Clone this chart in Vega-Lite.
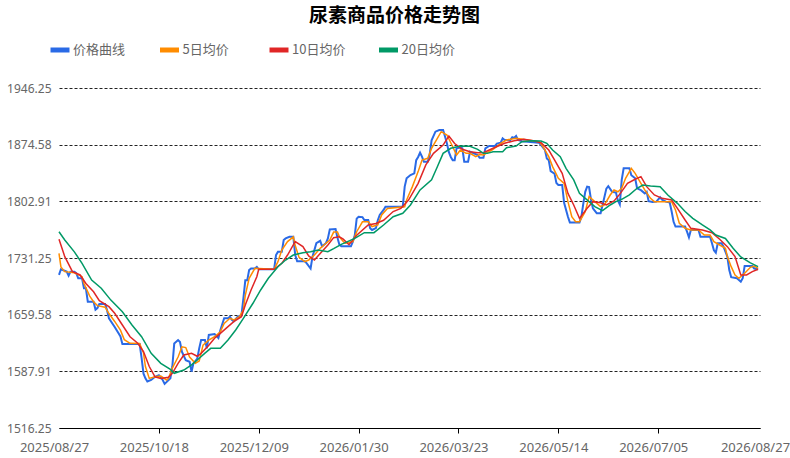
{
"$schema": "https://vega.github.io/schema/vega-lite/v6.json",
"width": 701, "height": 340,
"autosize": {"type": "none"},
"padding": {"left": 59, "top": 88, "right": 30, "bottom": 30},
"background": "white",
"title": {"text": "尿素商品价格走势图", "font": "Noto Sans CJK SC", "fontSize": 19, "fontWeight": "bold", "color": "#000000", "anchor": "middle", "frame": "group", "dx": -15, "offset": 12},
"config": {"view": {"stroke": null}, "font": "Noto Sans CJK SC"},
"data": {"values": [
{"series":"价格曲线","date":"2025/08/27","price":1710},{"series":"价格曲线","date":"2025/08/28","price":1717},{"series":"价格曲线","date":"2025/08/31","price":1714},{"series":"价格曲线","date":"2025/09/01","price":1709},{"series":"价格曲线","date":"2025/09/02","price":1714},{"series":"价格曲线","date":"2025/09/04","price":1714},{"series":"价格曲线","date":"2025/09/05","price":1712},{"series":"价格曲线","date":"2025/09/06","price":1705.5},{"series":"价格曲线","date":"2025/09/08","price":1705.5},{"series":"价格曲线","date":"2025/09/09","price":1693},{"series":"价格曲线","date":"2025/09/10","price":1693},{"series":"价格曲线","date":"2025/09/11","price":1676},{"series":"价格曲线","date":"2025/09/14","price":1676},{"series":"价格曲线","date":"2025/09/15","price":1666},{"series":"价格曲线","date":"2025/09/16","price":1668},{"series":"价格曲线","date":"2025/09/17","price":1673},{"series":"价格曲线","date":"2025/09/20","price":1673},{"series":"价格曲线","date":"2025/09/21","price":1665.5},{"series":"价格曲线","date":"2025/09/22","price":1655},{"series":"价格曲线","date":"2025/09/25","price":1644},{"series":"价格曲线","date":"2025/09/27","price":1636},{"series":"价格曲线","date":"2025/09/28","price":1632},{"series":"价格曲线","date":"2025/09/29","price":1622.5},{"series":"价格曲线","date":"2025/10/08","price":1622.5},{"series":"价格曲线","date":"2025/10/09","price":1605},{"series":"价格曲线","date":"2025/10/10","price":1585},{"series":"价格曲线","date":"2025/10/11","price":1579},{"series":"价格曲线","date":"2025/10/12","price":1575},{"series":"价格曲线","date":"2025/10/14","price":1577},{"series":"价格曲线","date":"2025/10/16","price":1581},{"series":"价格曲线","date":"2025/10/18","price":1583},{"series":"价格曲线","date":"2025/10/20","price":1577},{"series":"价格曲线","date":"2025/10/21","price":1572},{"series":"价格曲线","date":"2025/10/24","price":1579},{"series":"价格曲线","date":"2025/10/25","price":1594},{"series":"价格曲线","date":"2025/10/26","price":1623},{"series":"价格曲线","date":"2025/10/28","price":1627.5},{"series":"价格曲线","date":"2025/10/29","price":1625},{"series":"价格曲线","date":"2025/10/30","price":1612.7},{"series":"价格曲线","date":"2025/11/01","price":1602},{"series":"价格曲线","date":"2025/11/03","price":1600},{"series":"价格曲线","date":"2025/11/04","price":1587.5},{"series":"价格曲线","date":"2025/11/05","price":1598},{"series":"价格曲线","date":"2025/11/07","price":1604},{"series":"价格曲线","date":"2025/11/08","price":1617},{"series":"价格曲线","date":"2025/11/09","price":1627.5},{"series":"价格曲线","date":"2025/11/11","price":1627.5},{"series":"价格曲线","date":"2025/11/12","price":1617},{"series":"价格曲线","date":"2025/11/13","price":1634},{"series":"价格曲线","date":"2025/11/16","price":1635},{"series":"价格曲线","date":"2025/11/18","price":1630},{"series":"价格曲线","date":"2025/11/19","price":1640},{"series":"价格曲线","date":"2025/11/21","price":1655},{"series":"价格曲线","date":"2025/11/23","price":1655},{"series":"价格曲线","date":"2025/11/24","price":1657},{"series":"价格曲线","date":"2025/11/25","price":1653},{"series":"价格曲线","date":"2025/11/26","price":1651},{"series":"价格曲线","date":"2025/11/28","price":1657},{"series":"价格曲线","date":"2025/11/30","price":1659},{"series":"价格曲线","date":"2025/12/01","price":1680},{"series":"价格曲线","date":"2025/12/02","price":1703},{"series":"价格曲线","date":"2025/12/03","price":1703},{"series":"价格曲线","date":"2025/12/04","price":1716},{"series":"价格曲线","date":"2025/12/05","price":1718},{"series":"价格曲线","date":"2025/12/07","price":1718},{"series":"价格曲线","date":"2025/12/08","price":1720},{"series":"价格曲线","date":"2025/12/09","price":1717},{"series":"价格曲线","date":"2025/12/17","price":1717},{"series":"价格曲线","date":"2025/12/18","price":1735},{"series":"价格曲线","date":"2025/12/19","price":1739},{"series":"价格曲线","date":"2025/12/21","price":1739},{"series":"价格曲线","date":"2025/12/22","price":1754},{"series":"价格曲线","date":"2025/12/23","price":1756},{"series":"价格曲线","date":"2025/12/25","price":1758},{"series":"价格曲线","date":"2025/12/27","price":1758},{"series":"价格曲线","date":"2025/12/28","price":1735},{"series":"价格曲线","date":"2025/12/29","price":1727},{"series":"价格曲线","date":"2026/01/02","price":1727},{"series":"价格曲线","date":"2026/01/03","price":1724.5},{"series":"价格曲线","date":"2026/01/05","price":1718},{"series":"价格曲线","date":"2026/01/06","price":1733},{"series":"价格曲线","date":"2026/01/08","price":1750},{"series":"价格曲线","date":"2026/01/10","price":1753},{"series":"价格曲线","date":"2026/01/11","price":1746},{"series":"价格曲线","date":"2026/01/12","price":1748},{"series":"价格曲线","date":"2026/01/13","price":1750},{"series":"价格曲线","date":"2026/01/14","price":1756},{"series":"价格曲线","date":"2026/01/15","price":1767.5},{"series":"价格曲线","date":"2026/01/18","price":1768},{"series":"价格曲线","date":"2026/01/19","price":1757},{"series":"价格曲线","date":"2026/01/20","price":1748},{"series":"价格曲线","date":"2026/01/21","price":1746},{"series":"价格曲线","date":"2026/01/26","price":1746},{"series":"价格曲线","date":"2026/01/27","price":1752},{"series":"价格曲线","date":"2026/01/28","price":1760},{"series":"价格曲线","date":"2026/01/29","price":1781},{"series":"价格曲线","date":"2026/01/30","price":1783.5},{"series":"价格曲线","date":"2026/02/01","price":1783},{"series":"价格曲线","date":"2026/02/02","price":1779.3},{"series":"价格曲线","date":"2026/02/04","price":1779.3},{"series":"价格曲线","date":"2026/02/05","price":1768.8},{"series":"价格曲线","date":"2026/02/06","price":1766.7},{"series":"价格曲线","date":"2026/02/08","price":1769},{"series":"价格曲线","date":"2026/02/09","price":1779},{"series":"价格曲线","date":"2026/02/10","price":1785.7},{"series":"价格曲线","date":"2026/02/12","price":1792},{"series":"价格曲线","date":"2026/02/13","price":1796.2},{"series":"价格曲线","date":"2026/02/22","price":1796.2},{"series":"价格曲线","date":"2026/02/23","price":1821.5},{"series":"价格曲线","date":"2026/02/24","price":1832},{"series":"价格曲线","date":"2026/02/26","price":1836.2},{"series":"价格曲线","date":"2026/02/28","price":1838.3},{"series":"价格曲线","date":"2026/03/01","price":1855},{"series":"价格曲线","date":"2026/03/02","price":1859},{"series":"价格曲线","date":"2026/03/03","price":1864.4},{"series":"价格曲线","date":"2026/03/04","price":1859.4},{"series":"价格曲线","date":"2026/03/05","price":1853},{"series":"价格曲线","date":"2026/03/07","price":1853},{"series":"价格曲线","date":"2026/03/08","price":1862},{"series":"价格曲线","date":"2026/03/09","price":1880},{"series":"价格曲线","date":"2026/03/11","price":1891},{"series":"价格曲线","date":"2026/03/13","price":1893},{"series":"价格曲线","date":"2026/03/15","price":1893},{"series":"价格曲线","date":"2026/03/16","price":1885},{"series":"价格曲线","date":"2026/03/17","price":1876},{"series":"价格曲线","date":"2026/03/18","price":1865},{"series":"价格曲线","date":"2026/03/19","price":1859},{"series":"价格曲线","date":"2026/03/20","price":1855},{"series":"价格曲线","date":"2026/03/21","price":1855},{"series":"价格曲线","date":"2026/03/22","price":1870},{"series":"价格曲线","date":"2026/03/24","price":1871},{"series":"价格曲线","date":"2026/03/25","price":1870},{"series":"价格曲线","date":"2026/03/26","price":1853},{"series":"价格曲线","date":"2026/03/28","price":1853},{"series":"价格曲线","date":"2026/03/29","price":1865.7},{"series":"价格曲线","date":"2026/03/31","price":1863.6},{"series":"价格曲线","date":"2026/04/02","price":1861.5},{"series":"价格曲线","date":"2026/04/03","price":1858},{"series":"价格曲线","date":"2026/04/05","price":1858},{"series":"价格曲线","date":"2026/04/06","price":1870},{"series":"价格曲线","date":"2026/04/08","price":1873},{"series":"价格曲线","date":"2026/04/11","price":1873},{"series":"价格曲线","date":"2026/04/12","price":1876},{"series":"价格曲线","date":"2026/04/14","price":1877},{"series":"价格曲线","date":"2026/04/15","price":1882.6},{"series":"价格曲线","date":"2026/04/16","price":1880.5},{"series":"价格曲线","date":"2026/04/19","price":1880.5},{"series":"价格曲线","date":"2026/04/20","price":1884},{"series":"价格曲线","date":"2026/04/21","price":1883},{"series":"价格曲线","date":"2026/04/22","price":1885.5},{"series":"价格曲线","date":"2026/04/23","price":1880.5},{"series":"价格曲线","date":"2026/04/25","price":1879},{"series":"价格曲线","date":"2026/04/28","price":1878.4},{"series":"价格曲线","date":"2026/05/04","price":1877},{"series":"价格曲线","date":"2026/05/05","price":1874},{"series":"价格曲线","date":"2026/05/07","price":1868},{"series":"价格曲线","date":"2026/05/08","price":1857},{"series":"价格曲线","date":"2026/05/09","price":1855},{"series":"价格曲线","date":"2026/05/10","price":1841},{"series":"价格曲线","date":"2026/05/12","price":1838},{"series":"价格曲线","date":"2026/05/13","price":1826},{"series":"价格曲线","date":"2026/05/14","price":1823.6},{"series":"价格曲线","date":"2026/05/16","price":1823.6},{"series":"价格曲线","date":"2026/05/17","price":1801},{"series":"价格曲线","date":"2026/05/19","price":1783.5},{"series":"价格曲线","date":"2026/05/20","price":1776},{"series":"价格曲线","date":"2026/05/25","price":1776},{"series":"价格曲线","date":"2026/05/26","price":1783.5},{"series":"价格曲线","date":"2026/05/27","price":1800},{"series":"价格曲线","date":"2026/05/28","price":1815},{"series":"价格曲线","date":"2026/05/29","price":1821.5},{"series":"价格曲线","date":"2026/05/30","price":1821},{"series":"价格曲线","date":"2026/05/31","price":1805},{"series":"价格曲线","date":"2026/06/01","price":1794},{"series":"价格曲线","date":"2026/06/03","price":1788},{"series":"价格曲线","date":"2026/06/05","price":1788},{"series":"价格曲线","date":"2026/06/06","price":1798},{"series":"价格曲线","date":"2026/06/08","price":1819},{"series":"价格曲线","date":"2026/06/09","price":1822},{"series":"价格曲线","date":"2026/06/11","price":1815},{"series":"价格曲线","date":"2026/06/13","price":1814},{"series":"价格曲线","date":"2026/06/14","price":1804},{"series":"价格曲线","date":"2026/06/15","price":1799},{"series":"价格曲线","date":"2026/06/16","price":1830},{"series":"价格曲线","date":"2026/06/17","price":1844.6},{"series":"价格曲线","date":"2026/06/20","price":1844.6},{"series":"价格曲线","date":"2026/06/21","price":1836},{"series":"价格曲线","date":"2026/06/23","price":1832},{"series":"价格曲线","date":"2026/06/24","price":1819.4},{"series":"价格曲线","date":"2026/06/26","price":1817},{"series":"价格曲线","date":"2026/06/28","price":1813},{"series":"价格曲线","date":"2026/06/29","price":1815},{"series":"价格曲线","date":"2026/06/30","price":1803},{"series":"价格曲线","date":"2026/07/02","price":1802},{"series":"价格曲线","date":"2026/07/04","price":1802.5},{"series":"价格曲线","date":"2026/07/06","price":1808},{"series":"价格曲线","date":"2026/07/07","price":1805},{"series":"价格曲线","date":"2026/07/09","price":1802.5},{"series":"价格曲线","date":"2026/07/11","price":1801.4},{"series":"价格曲线","date":"2026/07/12","price":1790},{"series":"价格曲线","date":"2026/07/13","price":1777},{"series":"价格曲线","date":"2026/07/14","price":1771},{"series":"价格曲线","date":"2026/07/19","price":1771},{"series":"价格曲线","date":"2026/07/20","price":1764.5},{"series":"价格曲线","date":"2026/07/21","price":1757.4},{"series":"价格曲线","date":"2026/07/22","price":1766.7},{"series":"价格曲线","date":"2026/07/26","price":1766.7},{"series":"价格曲线","date":"2026/07/27","price":1758.2},{"series":"价格曲线","date":"2026/08/01","price":1758.2},{"series":"价格曲线","date":"2026/08/02","price":1750},{"series":"价格曲线","date":"2026/08/03","price":1741},{"series":"价格曲线","date":"2026/08/04","price":1738},{"series":"价格曲线","date":"2026/08/05","price":1749.8},{"series":"价格曲线","date":"2026/08/07","price":1750},{"series":"价格曲线","date":"2026/08/08","price":1745.6},{"series":"价格曲线","date":"2026/08/10","price":1733},{"series":"价格曲线","date":"2026/08/11","price":1716},{"series":"价格曲线","date":"2026/08/12","price":1707},{"series":"价格曲线","date":"2026/08/15","price":1705.6},{"series":"价格曲线","date":"2026/08/17","price":1701.3},{"series":"价格曲线","date":"2026/08/18","price":1705.6},{"series":"价格曲线","date":"2026/08/19","price":1721},{"series":"价格曲线","date":"2026/08/23","price":1721},{"series":"价格曲线","date":"2026/08/24","price":1718},{"series":"价格曲线","date":"2026/08/26","price":1717},
{"series":"5日均价","date":"2025/08/27","price":1737},{"series":"5日均价","date":"2025/08/28","price":1720},{"series":"5日均价","date":"2025/08/30","price":1714},{"series":"5日均价","date":"2025/09/04","price":1712.6},{"series":"5日均价","date":"2025/09/08","price":1707.6},{"series":"5日均价","date":"2025/09/09","price":1699},{"series":"5日均价","date":"2025/09/12","price":1683},{"series":"5日均价","date":"2025/09/14","price":1676},{"series":"5日均价","date":"2025/09/16","price":1671},{"series":"5日均价","date":"2025/09/20","price":1669},{"series":"5日均价","date":"2025/09/22","price":1661},{"series":"5日均价","date":"2025/09/25","price":1651},{"series":"5日均价","date":"2025/09/28","price":1640},{"series":"5日均价","date":"2025/09/30","price":1628},{"series":"5日均价","date":"2025/10/03","price":1623.4},{"series":"5日均价","date":"2025/10/08","price":1623},{"series":"5日均价","date":"2025/10/10","price":1611},{"series":"5日均价","date":"2025/10/11","price":1594},{"series":"5日均价","date":"2025/10/13","price":1579},{"series":"5日均价","date":"2025/10/16","price":1581},{"series":"5日均价","date":"2025/10/19","price":1582},{"series":"5日均价","date":"2025/10/22","price":1577},{"series":"5日均价","date":"2025/10/23","price":1579},{"series":"5日均价","date":"2025/10/25","price":1592},{"series":"5日均价","date":"2025/10/28","price":1606},{"series":"5日均价","date":"2025/10/30","price":1619},{"series":"5日均价","date":"2025/11/01","price":1618},{"series":"5日均价","date":"2025/11/03","price":1606},{"series":"5日均价","date":"2025/11/06","price":1598},{"series":"5日均价","date":"2025/11/08","price":1601},{"series":"5日均价","date":"2025/11/10","price":1621},{"series":"5日均价","date":"2025/11/13","price":1627.5},{"series":"5日均价","date":"2025/11/16","price":1631.7},{"series":"5日均价","date":"2025/11/19","price":1638},{"series":"5日均价","date":"2025/11/21","price":1648.6},{"series":"5日均价","date":"2025/11/24","price":1655},{"series":"5日均价","date":"2025/11/26","price":1652.8},{"series":"5日均价","date":"2025/11/29","price":1657},{"series":"5日均价","date":"2025/12/01","price":1665.5},{"series":"5日均价","date":"2025/12/02","price":1684},{"series":"5日均价","date":"2025/12/04","price":1705.6},{"series":"5日均价","date":"2025/12/07","price":1718.2},{"series":"5日均价","date":"2025/12/09","price":1718},{"series":"5日均价","date":"2025/12/17","price":1717},{"series":"5日均价","date":"2025/12/19","price":1726.6},{"series":"5日均价","date":"2025/12/21","price":1741.4},{"series":"5日均价","date":"2025/12/24","price":1752},{"series":"5日均价","date":"2025/12/27","price":1758},{"series":"5日均价","date":"2025/12/28","price":1747},{"series":"5日均价","date":"2025/12/30","price":1732},{"series":"5日均价","date":"2026/01/02","price":1726.6},{"series":"5日均价","date":"2026/01/04","price":1728.7},{"series":"5日均价","date":"2026/01/07","price":1735},{"series":"5日均价","date":"2026/01/10","price":1743.5},{"series":"5日均价","date":"2026/01/12","price":1747.7},{"series":"5日均价","date":"2026/01/15","price":1754},{"series":"5日均价","date":"2026/01/17","price":1764},{"series":"5日均价","date":"2026/01/19","price":1764},{"series":"5日均价","date":"2026/01/20","price":1758},{"series":"5日均价","date":"2026/01/22","price":1752},{"series":"5日均价","date":"2026/01/23","price":1750},{"series":"5日均价","date":"2026/01/27","price":1752},{"series":"5日均价","date":"2026/01/29","price":1764.5},{"series":"5日均价","date":"2026/02/01","price":1777},{"series":"5日均价","date":"2026/02/04","price":1777},{"series":"5日均价","date":"2026/02/06","price":1771},{"series":"5日均价","date":"2026/02/09","price":1773},{"series":"5日均价","date":"2026/02/11","price":1785.7},{"series":"5日均价","date":"2026/02/14","price":1794},{"series":"5日均价","date":"2026/02/23","price":1796},{"series":"5日均价","date":"2026/02/24","price":1804.6},{"series":"5日均价","date":"2026/02/27","price":1821.5},{"series":"5日均价","date":"2026/03/02","price":1840.5},{"series":"5日均价","date":"2026/03/04","price":1855},{"series":"5日均价","date":"2026/03/07","price":1857.3},{"series":"5日均价","date":"2026/03/09","price":1870},{"series":"5日均价","date":"2026/03/12","price":1882.6},{"series":"5日均价","date":"2026/03/14","price":1891},{"series":"5日均价","date":"2026/03/17","price":1886.8},{"series":"5日均价","date":"2026/03/20","price":1872},{"series":"5日均价","date":"2026/03/22","price":1861.5},{"series":"5日均价","date":"2026/03/24","price":1867.8},{"series":"5日均价","date":"2026/03/27","price":1863.6},{"series":"5日均价","date":"2026/03/29","price":1863.6},{"series":"5日均价","date":"2026/04/01","price":1859.4},{"series":"5日均价","date":"2026/04/03","price":1862},{"series":"5日均价","date":"2026/04/05","price":1861.5},{"series":"5日均价","date":"2026/04/10","price":1868.7},{"series":"5日均价","date":"2026/04/14","price":1876.3},{"series":"5日均价","date":"2026/04/17","price":1880.5},{"series":"5日均价","date":"2026/04/22","price":1882.6},{"series":"5日均价","date":"2026/04/28","price":1880.5},{"series":"5日均价","date":"2026/05/04","price":1878.4},{"series":"5日均价","date":"2026/05/06","price":1872.1},{"series":"5日均价","date":"2026/05/09","price":1859.4},{"series":"5日均价","date":"2026/05/11","price":1846.8},{"series":"5日均价","date":"2026/05/14","price":1832},{"series":"5日均价","date":"2026/05/17","price":1825.7},{"series":"5日均价","date":"2026/05/19","price":1802.5},{"series":"5日均价","date":"2026/05/21","price":1783.5},{"series":"5日均价","date":"2026/05/23","price":1777.2},{"series":"5日均价","date":"2026/05/25","price":1777.2},{"series":"5日均价","date":"2026/05/28","price":1789.9},{"series":"5日均价","date":"2026/05/30","price":1808.9},{"series":"5日均价","date":"2026/06/02","price":1802.5},{"series":"5日均价","date":"2026/06/05","price":1796.2},{"series":"5日均价","date":"2026/06/07","price":1798.3},{"series":"5日均价","date":"2026/06/10","price":1810.9},{"series":"5日均价","date":"2026/06/12","price":1817.3},{"series":"5日均价","date":"2026/06/14","price":1815},{"series":"5日均价","date":"2026/06/16","price":1819.4},{"series":"5日均价","date":"2026/06/18","price":1832},{"series":"5日均价","date":"2026/06/21","price":1844.6},{"series":"5日均价","date":"2026/06/23","price":1838.3},{"series":"5日均价","date":"2026/06/26","price":1825.7},{"series":"5日均价","date":"2026/06/28","price":1817.3},{"series":"5日均价","date":"2026/07/01","price":1806.7},{"series":"5日均价","date":"2026/07/03","price":1802.5},{"series":"5日均价","date":"2026/07/12","price":1802.5},{"series":"5日均价","date":"2026/07/14","price":1791.9},{"series":"5日均价","date":"2026/07/16","price":1775.1},{"series":"5日均价","date":"2026/07/19","price":1768.8},{"series":"5日均价","date":"2026/07/22","price":1766.7},{"series":"5日均价","date":"2026/07/26","price":1766.7},{"series":"5日均价","date":"2026/07/29","price":1760.3},{"series":"5日均价","date":"2026/08/01","price":1760.3},{"series":"5日均价","date":"2026/08/03","price":1751.9},{"series":"5日均价","date":"2026/08/06","price":1747.7},{"series":"5日均价","date":"2026/08/09","price":1743.5},{"series":"5日均价","date":"2026/08/10","price":1733},{"series":"5日均价","date":"2026/08/12","price":1720.3},{"series":"5日均价","date":"2026/08/14","price":1709.8},{"series":"5日均价","date":"2026/08/16","price":1705.6},{"series":"5日均价","date":"2026/08/19","price":1711.9},{"series":"5日均价","date":"2026/08/22","price":1719.5},{"series":"5日均价","date":"2026/08/24","price":1721},{"series":"5日均价","date":"2026/08/26","price":1718},
{"series":"10日均价","date":"2025/08/27","price":1755},{"series":"10日均价","date":"2025/08/30","price":1733},{"series":"10日均价","date":"2025/09/03","price":1714},{"series":"10日均价","date":"2025/09/07","price":1709.8},{"series":"10日均价","date":"2025/09/10","price":1699},{"series":"10日均价","date":"2025/09/14","price":1688.6},{"series":"10日均价","date":"2025/09/17","price":1677.3},{"series":"10日均价","date":"2025/09/22","price":1669.7},{"series":"10日均价","date":"2025/09/25","price":1661.3},{"series":"10日均价","date":"2025/09/29","price":1646.5},{"series":"10日均价","date":"2025/10/03","price":1631.7},{"series":"10日均价","date":"2025/10/07","price":1623.4},{"series":"10日均价","date":"2025/10/10","price":1613},{"series":"10日均价","date":"2025/10/13","price":1594},{"series":"10日均价","date":"2025/10/16","price":1581},{"series":"10日均价","date":"2025/10/19","price":1579},{"series":"10日均价","date":"2025/10/23","price":1580.4},{"series":"10日均价","date":"2025/10/25","price":1585.4},{"series":"10日均价","date":"2025/10/28","price":1598},{"series":"10日均价","date":"2025/10/31","price":1608.6},{"series":"10日均价","date":"2025/11/04","price":1610.7},{"series":"10日均价","date":"2025/11/07","price":1607},{"series":"10日均价","date":"2025/11/09","price":1610.7},{"series":"10日均价","date":"2025/11/13","price":1621},{"series":"10日均价","date":"2025/11/16","price":1629.7},{"series":"10日均价","date":"2025/11/19","price":1636},{"series":"10日均价","date":"2025/11/23","price":1644.4},{"series":"10日均价","date":"2025/11/26","price":1650.7},{"series":"10日均价","date":"2025/11/30","price":1657},{"series":"10日均价","date":"2025/12/02","price":1671.8},{"series":"10日均价","date":"2025/12/05","price":1690.8},{"series":"10日均价","date":"2025/12/08","price":1707.6},{"series":"10日均价","date":"2025/12/09","price":1717},{"series":"10日均价","date":"2025/12/17","price":1717},{"series":"10日均价","date":"2025/12/21","price":1724.5},{"series":"10日均价","date":"2025/12/24","price":1735},{"series":"10日均价","date":"2025/12/27","price":1747.7},{"series":"10日均价","date":"2025/12/28","price":1752},{"series":"10日均价","date":"2026/01/01","price":1745.6},{"series":"10日均价","date":"2026/01/04","price":1733.8},{"series":"10日均价","date":"2026/01/07","price":1728.7},{"series":"10日均价","date":"2026/01/10","price":1737},{"series":"10日均价","date":"2026/01/14","price":1747.7},{"series":"10日均价","date":"2026/01/17","price":1757},{"series":"10日均价","date":"2026/01/20","price":1758},{"series":"10日均价","date":"2026/01/22","price":1755},{"series":"10日均价","date":"2026/01/25","price":1748},{"series":"10日均价","date":"2026/01/29","price":1760},{"series":"10日均价","date":"2026/02/04","price":1773},{"series":"10日均价","date":"2026/02/08","price":1775},{"series":"10日均价","date":"2026/02/12","price":1779},{"series":"10日均价","date":"2026/02/17","price":1790},{"series":"10日均价","date":"2026/02/21","price":1794},{"series":"10日均价","date":"2026/02/25","price":1804.6},{"series":"10日均价","date":"2026/03/02","price":1825.7},{"series":"10日均价","date":"2026/03/06","price":1849},{"series":"10日均价","date":"2026/03/10","price":1863.6},{"series":"10日均价","date":"2026/03/15","price":1874},{"series":"10日均价","date":"2026/03/18","price":1885.5},{"series":"10日均价","date":"2026/03/21","price":1876},{"series":"10日均价","date":"2026/03/25","price":1868.7},{"series":"10日均价","date":"2026/03/29","price":1865.7},{"series":"10日均价","date":"2026/04/02","price":1864.5},{"series":"10日均价","date":"2026/04/05","price":1864.5},{"series":"10日均价","date":"2026/04/10","price":1870},{"series":"10日均价","date":"2026/04/16","price":1876.3},{"series":"10日均价","date":"2026/04/21","price":1879.6},{"series":"10日均价","date":"2026/04/26","price":1881.3},{"series":"10日均价","date":"2026/05/01","price":1879.6},{"series":"10日均价","date":"2026/05/05","price":1877.1},{"series":"10日均价","date":"2026/05/09","price":1867.8},{"series":"10日均价","date":"2026/05/12","price":1855.2},{"series":"10日均价","date":"2026/05/16","price":1838.3},{"series":"10日均价","date":"2026/05/19","price":1813},{"series":"10日均价","date":"2026/05/22","price":1798.3},{"series":"10日均价","date":"2026/05/25","price":1781.4},{"series":"10日均价","date":"2026/05/29","price":1794.1},{"series":"10日均价","date":"2026/06/01","price":1802.5},{"series":"10日均价","date":"2026/06/05","price":1801},{"series":"10日均价","date":"2026/06/08","price":1798.3},{"series":"10日均价","date":"2026/06/12","price":1803.5},{"series":"10日均价","date":"2026/06/15","price":1812},{"series":"10日均价","date":"2026/06/19","price":1825.7},{"series":"10日均价","date":"2026/06/23","price":1830.8},{"series":"10日均价","date":"2026/06/26","price":1834.1},{"series":"10日均价","date":"2026/06/29","price":1821.5},{"series":"10日均价","date":"2026/07/03","price":1811},{"series":"10日均价","date":"2026/07/07","price":1806.7},{"series":"10日均价","date":"2026/07/12","price":1804.6},{"series":"10日均价","date":"2026/07/15","price":1794.1},{"series":"10日均价","date":"2026/07/19","price":1779.3},{"series":"10日均价","date":"2026/07/22","price":1768.8},{"series":"10日均价","date":"2026/07/28","price":1766.7},{"series":"10日均价","date":"2026/08/02","price":1763.3},{"series":"10日均价","date":"2026/08/06","price":1755},{"series":"10日均价","date":"2026/08/10","price":1745.6},{"series":"10日均价","date":"2026/08/14","price":1733},{"series":"10日均价","date":"2026/08/17","price":1709.8},{"series":"10日均价","date":"2026/08/20","price":1709.8},{"series":"10日均价","date":"2026/08/23","price":1714},{"series":"10日均价","date":"2026/08/26","price":1717},
{"series":"20日均价","date":"2025/08/27","price":1764.5},{"series":"20日均价","date":"2025/08/30","price":1754},{"series":"20日均价","date":"2025/09/04","price":1739},{"series":"20日均价","date":"2025/09/08","price":1724.5},{"series":"20日均价","date":"2025/09/13","price":1703.4},{"series":"20日均价","date":"2025/09/18","price":1693},{"series":"20日均价","date":"2025/09/23","price":1678},{"series":"20日均价","date":"2025/09/29","price":1663.3},{"series":"20日均价","date":"2025/10/04","price":1646.5},{"series":"20日均价","date":"2025/10/09","price":1631.7},{"series":"20日均价","date":"2025/10/14","price":1610.7},{"series":"20日均价","date":"2025/10/19","price":1598},{"series":"20日均价","date":"2025/10/24","price":1590.4},{"series":"20日均价","date":"2025/10/26","price":1585.4},{"series":"20日均价","date":"2025/10/31","price":1589.6},{"series":"20日均价","date":"2025/11/04","price":1596},{"series":"20日均价","date":"2025/11/07","price":1602.3},{"series":"20日均价","date":"2025/11/11","price":1611},{"series":"20日均价","date":"2025/11/14","price":1617},{"series":"20日均价","date":"2025/11/19","price":1617},{"series":"20日均价","date":"2025/11/23","price":1627.5},{"series":"20日均价","date":"2025/11/27","price":1640.2},{"series":"20日均价","date":"2025/12/01","price":1655},{"series":"20日均价","date":"2025/12/06","price":1674},{"series":"20日均价","date":"2025/12/10","price":1690.8},{"series":"20日均价","date":"2025/12/14","price":1705.6},{"series":"20日均价","date":"2025/12/19","price":1720.3},{"series":"20日均价","date":"2025/12/23","price":1728.7},{"series":"20日均价","date":"2025/12/27","price":1735},{"series":"20日均价","date":"2026/01/01","price":1738},{"series":"20日均价","date":"2026/01/05","price":1739.2},{"series":"20日均价","date":"2026/01/09","price":1741.4},{"series":"20日均价","date":"2026/01/14","price":1739.2},{"series":"20日均价","date":"2026/01/17","price":1743},{"series":"20日均价","date":"2026/01/21","price":1748.5},{"series":"20日均价","date":"2026/01/28","price":1756},{"series":"20日均价","date":"2026/02/02","price":1763.3},{"series":"20日均价","date":"2026/02/07","price":1763.3},{"series":"20日均价","date":"2026/02/12","price":1773},{"series":"20日均价","date":"2026/02/17","price":1783.5},{"series":"20日均价","date":"2026/02/22","price":1787.8},{"series":"20日均价","date":"2026/02/26","price":1798.3},{"series":"20日均价","date":"2026/03/03","price":1817.3},{"series":"20日均价","date":"2026/03/09","price":1830},{"series":"20日均价","date":"2026/03/12","price":1846.7},{"series":"20日均价","date":"2026/03/15","price":1863.6},{"series":"20日均价","date":"2026/03/19","price":1870},{"series":"20日均价","date":"2026/03/24","price":1872.9},{"series":"20日均价","date":"2026/03/29","price":1872.5},{"series":"20日均价","date":"2026/04/02","price":1868.7},{"series":"20日均价","date":"2026/04/05","price":1863.6},{"series":"20日均价","date":"2026/04/07","price":1863.6},{"series":"20日均价","date":"2026/04/10","price":1865.7},{"series":"20日均价","date":"2026/04/15","price":1865.7},{"series":"20日均价","date":"2026/04/17","price":1870.8},{"series":"20日均价","date":"2026/04/22","price":1872.9},{"series":"20日均价","date":"2026/04/25","price":1878.4},{"series":"20日均价","date":"2026/04/30","price":1879.6},{"series":"20日均价","date":"2026/05/05","price":1879.2},{"series":"20日均价","date":"2026/05/08","price":1876.3},{"series":"20日均价","date":"2026/05/11","price":1867.8},{"series":"20日均价","date":"2026/05/15","price":1859.4},{"series":"20日均价","date":"2026/05/18","price":1844.6},{"series":"20日均价","date":"2026/05/22","price":1830},{"series":"20日均价","date":"2026/05/25","price":1813},{"series":"20日均价","date":"2026/05/30","price":1802.5},{"series":"20日均价","date":"2026/06/02","price":1796.2},{"series":"20日均价","date":"2026/06/06","price":1791.2},{"series":"20日均价","date":"2026/06/10","price":1798.3},{"series":"20日均价","date":"2026/06/13","price":1802.5},{"series":"20日均价","date":"2026/06/16","price":1805.5},{"series":"20日均价","date":"2026/06/20","price":1811},{"series":"20日均价","date":"2026/06/24","price":1819.4},{"series":"20日均价","date":"2026/06/27","price":1823.6},{"series":"20日均价","date":"2026/07/01","price":1822.3},{"series":"20日均价","date":"2026/07/06","price":1821.5},{"series":"20日均价","date":"2026/07/10","price":1811},{"series":"20日均价","date":"2026/07/15","price":1800.4},{"series":"20日均价","date":"2026/07/19","price":1790},{"series":"20日均价","date":"2026/07/23","price":1781.4},{"series":"20日均价","date":"2026/07/28","price":1773},{"series":"20日均价","date":"2026/08/01","price":1766.7},{"series":"20日均价","date":"2026/08/04","price":1760.3},{"series":"20日均价","date":"2026/08/09","price":1756},{"series":"20日均价","date":"2026/08/13","price":1743.5},{"series":"20日均价","date":"2026/08/17","price":1732.5},{"series":"20日均价","date":"2026/08/22","price":1725},{"series":"20日均价","date":"2026/08/26","price":1720.3}
]},
"encoding": {
"x": {"field": "date", "type": "temporal",
 "scale": {"domain": [{"year": 2025, "month": 8, "date": 27}, {"year": 2026, "month": 8, "date": 27}]},
 "axis": {"title": null, "values": [{"year": 2025, "month": 8, "date": 27}, {"year": 2025, "month": 10, "date": 18}, {"year": 2025, "month": 12, "date": 9}, {"year": 2026, "month": 1, "date": 30}, {"year": 2026, "month": 3, "date": 23}, {"year": 2026, "month": 5, "date": 14}, {"year": 2026, "month": 7, "date": 5}, {"year": 2026, "month": 8, "date": 27}],
  "format": "%Y/%m/%d", "labelFont": "Noto Sans", "labelFontSize": 13, "labelColor": "#666666", "labelOffset": -5, "labelPadding": 8, "labelFlush": false, "labelOverlap": false,
  "grid": false, "domainColor": "#000000", "domainWidth": 1, "tickColor": "#000000", "tickSize": 5, "tickWidth": 1,
  "tickOpacity": {"condition": {"test": "datum.value < time(datetime(2025,7,28)) || datum.value > time(datetime(2026,7,26))", "value": 0}, "value": 1}}},
"y": {"field": "price", "type": "quantitative",
 "scale": {"domain": [1516.25, 1946.25], "nice": false, "zero": false},
 "axis": {"title": null, "values": [1516.25, 1587.91, 1659.58, 1731.25, 1802.91, 1874.58, 1946.25], "format": ".2f",
  "labelFont": "Noto Sans", "labelFontSize": 12, "labelColor": "#666666", "labelPadding": 8, "labelOverlap": false,
  "domain": false, "ticks": false, "grid": true, "gridDash": [3, 2], "gridColor": "#222222", "gridWidth": 1}},
"color": {"field": "series", "type": "nominal",
 "scale": {"domain": ["价格曲线", "5日均价", "10日均价", "20日均价"], "range": ["#2a6ae6", "#ff8c00", "#e02626", "#009966"]},
 "legend": {"title": null, "orient": "none", "legendX": -11, "legendY": -50, "direction": "horizontal", "columns": 4, "gridAlign": "all", "columnPadding": 22.5, "padding": 0,
  "symbolType": "M-1,0L1,0", "symbolSize": 361, "symbolStrokeWidth": 5, "labelFont": "Noto Sans CJK SC", "labelFontSize": 13, "labelColor": "#666666", "labelOffset": 1,
  "encoding": {"symbols": {"update": {"strokeWidth": {"value": 5}, "strokeCap": {"value": "butt"}}}}}}
},
"layer": [
 {"transform": [{"filter": "datum.series === '价格曲线'"}], "mark": {"type": "line", "strokeWidth": 2}},
 {"transform": [{"filter": "datum.series !== '价格曲线'"}], "mark": {"type": "line", "strokeWidth": 1.5}}
]
}
